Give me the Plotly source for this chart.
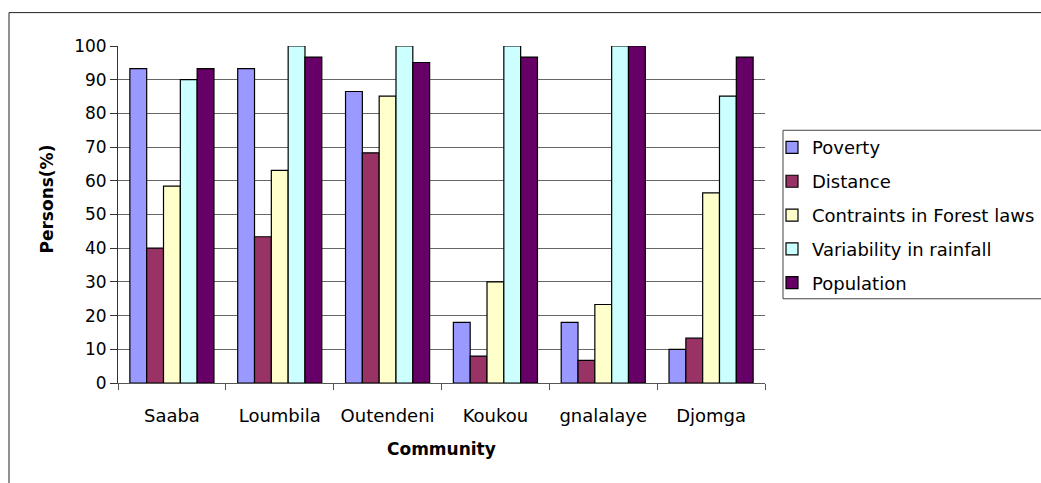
import plotly.graph_objects as go

# Survey results: share of respondents (%) citing each factor, per community
communities = ["Saaba", "Loumbila", "Outendeni", "Koukou", "gnalalaye", "Djomga"]
poverty = [93.3, 93.3, 86.5, 18.0, 18.0, 10.0]
distance = [40.0, 43.4, 68.3, 8.0, 6.7, 13.3]
forest_laws = [58.4, 63.1, 85.1, 30.0, 23.3, 56.4]
rainfall = [90.0, 100.0, 100.0, 100.0, 100.0, 85.1]
population = [93.3, 96.7, 95.1, 96.7, 100.0, 96.7]

series_names = ["Poverty", "Distance", "Contraints in Forest laws",
                "Variability in rainfall", "Population"]
series_values = [poverty, distance, forest_laws, rainfall, population]
series_colors = ["#9999FF", "#993366", "#FFFFCC", "#CCFFFF", "#660066"]

W, H = 1041, 483
PL, PR, PT, PB = 118, 765, 45.5, 383.5   # plot-area edges in pixels
FONT = "DejaVu Sans"


def fx(px):
    return (px - PL) / (PR - PL)


def fy(py):
    return (PB - py) / (PB - PT)


fig = go.Figure()
for i, (name, vals, col) in enumerate(zip(series_names, series_values, series_colors)):
    fig.add_trace(go.Bar(
        x=communities, y=vals, name=name, legendgroup=f"g{i}",
        marker=dict(color=col, line=dict(color="black", width=1.2)),
        hovertemplate="%{x}: %{y}%<extra>" + name + "</extra>",
    ))

fig.update_layout(
    width=W, height=H,
    margin=dict(l=PL, r=W - PR, t=PT, b=H - PB, autoexpand=False),
    paper_bgcolor="white", plot_bgcolor="white",
    barmode="group", bargap=0.22, bargroupgap=0,
    font=dict(family=FONT, size=17, color="black"),
    showlegend=True,
    legend=dict(
        x=fx(772), xanchor="left", y=fy(129), yanchor="top",
        bgcolor="rgba(0,0,0,0)", borderwidth=0,
        traceorder="grouped", tracegroupgap=7.4,
        font=dict(family=FONT, size=18, color="black"),
    ),
    xaxis=dict(
        type="category", showgrid=False, showline=True, linecolor="#555555",
        linewidth=1, ticks="outside", tickson="boundaries", ticklen=6,
        tickcolor="#555555", tickfont=dict(family=FONT, size=18),
        ticklabelstandoff=16,
    ),
    yaxis=dict(
        range=[0, 100], dtick=10, tick0=0, showgrid=True, gridcolor="#666666",
        gridwidth=1, showline=True, linecolor="#333333", linewidth=1,
        ticks="outside", ticklen=7, tickcolor="#333333",
        tickfont=dict(family=FONT, size=17), zeroline=False,
    ),
    shapes=[
        # chart frame (top and left edges inside the view)
        dict(type="line", xref="paper", yref="paper", x0=fx(9), x1=fx(W + 5),
             y0=fy(12), y1=fy(12), line=dict(color="#222222", width=1)),
        dict(type="line", xref="paper", yref="paper", x0=fx(9), x1=fx(9),
             y0=fy(12), y1=fy(H + 5), line=dict(color="#222222", width=1)),
        # legend frame
        dict(type="rect", xref="paper", yref="paper", x0=fx(783), x1=fx(W + 5),
             y0=fy(299), y1=fy(130), line=dict(color="#444444", width=1)),
    ],
    annotations=[
        dict(text="<b>Persons(%)</b>", xref="paper", yref="paper",
             x=fx(47.5), y=fy(199), xanchor="center", yanchor="middle",
             textangle=-90, showarrow=False, font=dict(family=FONT, size=17)),
        dict(text="<b>Community</b>", xref="paper", yref="paper",
             x=fx(441), y=fy(450), xanchor="center", yanchor="middle",
             showarrow=False, font=dict(family=FONT, size=17)),
    ],
)

fig.write_html("out.html")
